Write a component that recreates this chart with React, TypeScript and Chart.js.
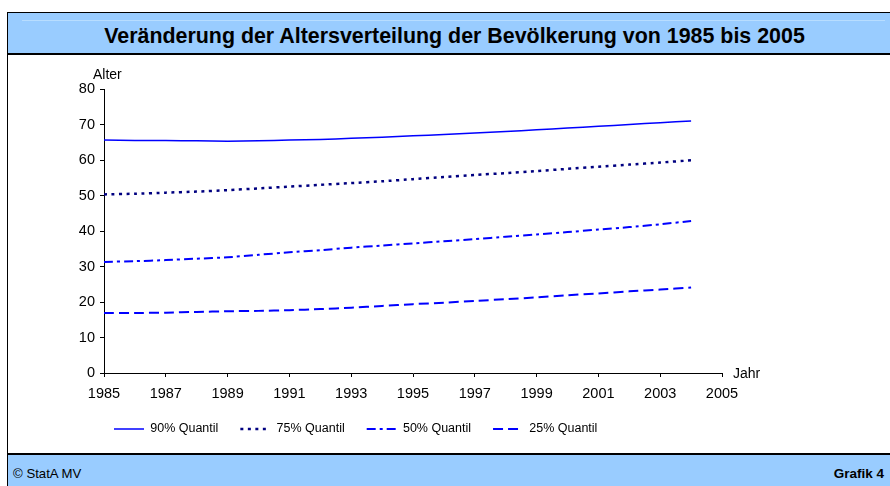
import React, { useEffect, useRef } from "react";
import { Chart, registerables } from "chart.js";

Chart.register(...registerables);

const years = [1985, 1986, 1987, 1988, 1989, 1990, 1991, 1992, 1993, 1994, 1995, 1996, 1997, 1998, 1999, 2000, 2001, 2002, 2003, 2004];
const q90 = [65.6, 65.5, 65.5, 65.4, 65.3, 65.4, 65.6, 65.8, 66.1, 66.4, 66.8, 67.2, 67.6, 68.0, 68.5, 69.0, 69.5, 70.0, 70.5, 71.0];
const q75 = [50.3, 50.5, 50.8, 51.1, 51.5, 52.0, 52.5, 53.0, 53.5, 54.0, 54.6, 55.2, 55.8, 56.3, 56.9, 57.5, 58.1, 58.7, 59.3, 59.9];
const q50 = [31.3, 31.5, 31.8, 32.2, 32.6, 33.3, 34.0, 34.6, 35.3, 35.9, 36.5, 37.1, 37.7, 38.4, 39.0, 39.7, 40.4, 41.1, 41.9, 42.8];
const q25 = [16.9, 16.9, 17.0, 17.2, 17.4, 17.5, 17.7, 18.0, 18.4, 18.9, 19.4, 19.8, 20.3, 20.8, 21.3, 21.9, 22.4, 23.0, 23.5, 24.1];
const seriesNames = ["90% Quantil", "75% Quantil", "50% Quantil", "25% Quantil"];
const titleText = "Veränderung der Altersverteilung der Bevölkerung von 1985 bis 2005";
const yAxisLabel = "Alter";
const xAxisLabel = "Jahr";
const footerLeft = "© StatA MV";
const footerRight = "Grafik 4";

const FONT = "'Liberation Sans', Arial, Helvetica, sans-serif";

const toPoints = (vals: number[]) => vals.map((v, i) => ({ x: years[i], y: v }));

export default function App() {
  const canvasRef = useRef<HTMLCanvasElement | null>(null);

  useEffect(() => {
    const canvas = canvasRef.current;
    if (!canvas) return;

    const axisLabels = {
      id: "axisLabels",
      afterDraw(chart: any) {
        const { ctx, chartArea } = chart;
        ctx.save();
        ctx.font = `14px ${FONT}`;
        ctx.fillStyle = "#000";
        ctx.textAlign = "left";
        ctx.textBaseline = "middle";
        ctx.fillText(yAxisLabel, chartArea.left - 11, chartArea.top - 14);
        ctx.fillText(xAxisLabel, chartArea.right + 11, chartArea.bottom + 1);
        ctx.restore();
      },
    };

    const legendShift = {
      id: "legendShift",
      afterLayout(chart: any) {
        const lg = chart.legend;
        if (lg) {
          const w = lg.right - lg.left;
          lg.left = 84;
          lg.right = 84 + w;
        }
      },
    };

    const chart = new Chart(canvas, {
      type: "line",
      data: {
        datasets: [
          { label: seriesNames[0], data: toPoints(q90), borderColor: "#0000FF", backgroundColor: "#0000FF", borderWidth: 1.5, borderDash: [] },
          { label: seriesNames[1], data: toPoints(q75), borderColor: "#000080", backgroundColor: "#000080", borderWidth: 2.5, borderDash: [3, 4.5] },
          { label: seriesNames[2], data: toPoints(q50), borderColor: "#0000FF", backgroundColor: "#0000FF", borderWidth: 2, borderDash: [9, 4, 3, 4] },
          { label: seriesNames[3], data: toPoints(q25), borderColor: "#0000FF", backgroundColor: "#0000FF", borderWidth: 2, borderDash: [10, 5] },
        ],
      },
      options: {
        responsive: false,
        animation: false,
        devicePixelRatio: 1,
        elements: { point: { radius: 0, hoverRadius: 0 }, line: { tension: 0.2 } },
        layout: { padding: { left: 0, right: 168, top: 33, bottom: 6.75 } },
        plugins: {
          title: { display: false },
          tooltip: { enabled: false },
          legend: {
            position: "bottom",
            align: "start",
            labels: {
              usePointStyle: true,
              pointStyle: "line",
              pointStyleWidth: 30,
              boxWidth: 30,
              padding: 22,
              color: "#000",
              font: { family: FONT, size: 12.5 },
              generateLabels: (chart: any) => {
                const items = (Chart.defaults.plugins.legend.labels as any).generateLabels(chart);
                items.forEach((it: any, i: number) => {
                  const ds = chart.data.datasets[i];
                  it.lineDash = ds.borderDash;
                  it.lineWidth = ds.borderWidth;
                  it.strokeStyle = ds.borderColor;
                  it.pointStyle = "line";
                });
                return items;
              },
            },
          },
        },
        scales: {
          x: {
            type: "linear",
            min: 1985,
            max: 2005,
            afterFit: (s: any) => { s.height = 27.75; },
            ticks: {
              stepSize: 2,
              autoSkip: false,
              maxRotation: 0,
              padding: 8,
              color: "#000",
              font: { family: FONT, size: 14.5 },
              callback: (v: any) => String(v),
            },
            grid: { display: true, drawOnChartArea: false, drawTicks: true, tickLength: 4, color: "#000" },
            border: { display: true, color: "#000", width: 1 },
          },
          y: {
            min: 0,
            max: 80,
            afterFit: (s: any) => { s.width = 96; },
            ticks: {
              stepSize: 10,
              padding: 5,
              color: "#000",
              font: { family: FONT, size: 14.5 },
            },
            grid: { display: true, drawOnChartArea: false, drawTicks: true, tickLength: 4, color: "#000" },
            border: { display: true, color: "#000", width: 1 },
          },
        },
      } as any,
      plugins: [axisLabels, legendShift],
    });

    return () => chart.destroy();
  }, []);

  return (
    <div style={{ position: "fixed", left: 0, top: 0, width: 890, height: 486, background: "#fff", overflow: "hidden", fontFamily: FONT }}>
      <div style={{ position: "absolute", left: 7, top: 12, width: 1, height: 474, background: "#000" }} />
      <div style={{ position: "absolute", left: 7, top: 12, width: 883, height: 43, background: "#99CCFF", borderTop: "1px solid #000", borderBottom: "2px solid #000", borderLeft: "1px solid #000", boxSizing: "border-box" }} />
      <div style={{ position: "absolute", left: 22, top: 20, width: 863, height: 1, background: "#B8DDFF" }} />
      <div style={{ position: "absolute", left: 0, top: 15, width: 909, height: 42, display: "flex", alignItems: "center", justifyContent: "center", fontWeight: "bold", fontSize: 21.4, color: "#000", whiteSpace: "nowrap" }}>
        {titleText}
      </div>
      <canvas ref={canvasRef} width={882} height={396} style={{ position: "absolute", left: 8, top: 56, width: 882, height: 396 }} />
      <div style={{ position: "absolute", left: 7, top: 453, width: 883, height: 33, background: "#99CCFF", borderTop: "2px solid #000", borderLeft: "1px solid #000", boxSizing: "border-box" }} />
      <div style={{ position: "absolute", left: 13, top: 463, height: 20, display: "flex", alignItems: "center", fontSize: 13.2, color: "#000", whiteSpace: "nowrap" }}>
        {footerLeft}
      </div>
      <div style={{ position: "absolute", right: 6, top: 463, height: 20, display: "flex", alignItems: "center", fontSize: 13.5, fontWeight: "bold", color: "#000", whiteSpace: "nowrap" }}>
        {footerRight}
      </div>
    </div>
  );
}
